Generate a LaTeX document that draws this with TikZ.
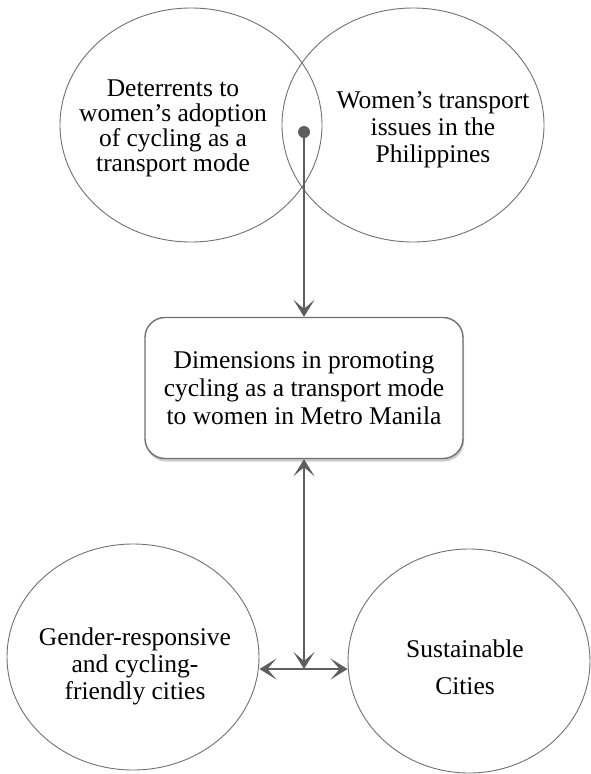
\documentclass[tikz,border=0pt]{standalone}
\usepackage{fontspec}
\setmainfont{Liberation Serif}
\usetikzlibrary{shapes.geometric,arrows.meta,shadows}
\definecolor{linegray}{HTML}{5E5E5E}
\definecolor{rimgray}{HTML}{707070}
\tikzset{
  blob/.style={ellipse, draw=rimgray, line width=0.9pt, inner sep=0pt},
  txt/.style={align=center, inner sep=0pt, font=\fontsize{25.5}{27}\selectfont},
  dimbox/.style={rectangle, rounded corners=20pt, draw=rimgray, line width=1.4pt,
    fill=white, minimum width=318pt, minimum height=141pt, align=center,
    font=\fontsize{25.5}{28}\selectfont,
    drop shadow={shadow xshift=1pt, shadow yshift=-3pt, opacity=0.4}},
  tip/.tip={Stealth[length=17pt, width=21pt, inset=9pt]},
  link/.style={draw=linegray, line width=2.2pt},
}
\begin{document}
\begin{tikzpicture}[x=1pt, y=-1pt]
    \useasboundingbox (0,0) rectangle (591,774);
    % two overlapping circles at the top
    \node[blob, minimum width=262pt, minimum height=234pt] (deter) at (191,125) {};
    \node[blob, minimum width=262pt, minimum height=234pt] (issues) at (413,125) {};
    \node[txt, font=\fontsize{25.5}{25}\selectfont] (deterT) at (173,128)
        {Deterrents to\\women’s adoption\\of cycling as a\\transport mode};
    \node[txt] (issuesT) at (433,130) {Women’s transport\\issues in the\\Philippines};
    % central box
    \node[dimbox] (dims) at (304,388)
        {Dimensions in promoting\\cycling as a transport mode\\to women in Metro Manila};
    % bottom circles
    \node[blob, minimum width=252pt, minimum height=226pt] (gender) at (133,657) {};
    \node[blob, minimum width=242pt, minimum height=224pt] (cities) at (469,661) {};
    \node[txt] (genderT) at (135,666) {Gender-responsive\\and cycling-\\friendly cities};
    \node[txt, font=\fontsize{25.5}{37}\selectfont] (citiesT) at (465,667) {Sustainable\\Cities};
    % connectors
    \node[circle, fill=linegray, inner sep=0pt, minimum size=12pt] (dot) at (304,132) {};
    \coordinate (jn) at (304,669);
    \draw[link, -tip] (dot) -- (dims);
    \draw[link, tip-tip] (dims) -- (jn);
    \draw[link, tip-tip] (jn -| gender.east) -- (jn -| cities.west);
\end{tikzpicture}
\end{document}
